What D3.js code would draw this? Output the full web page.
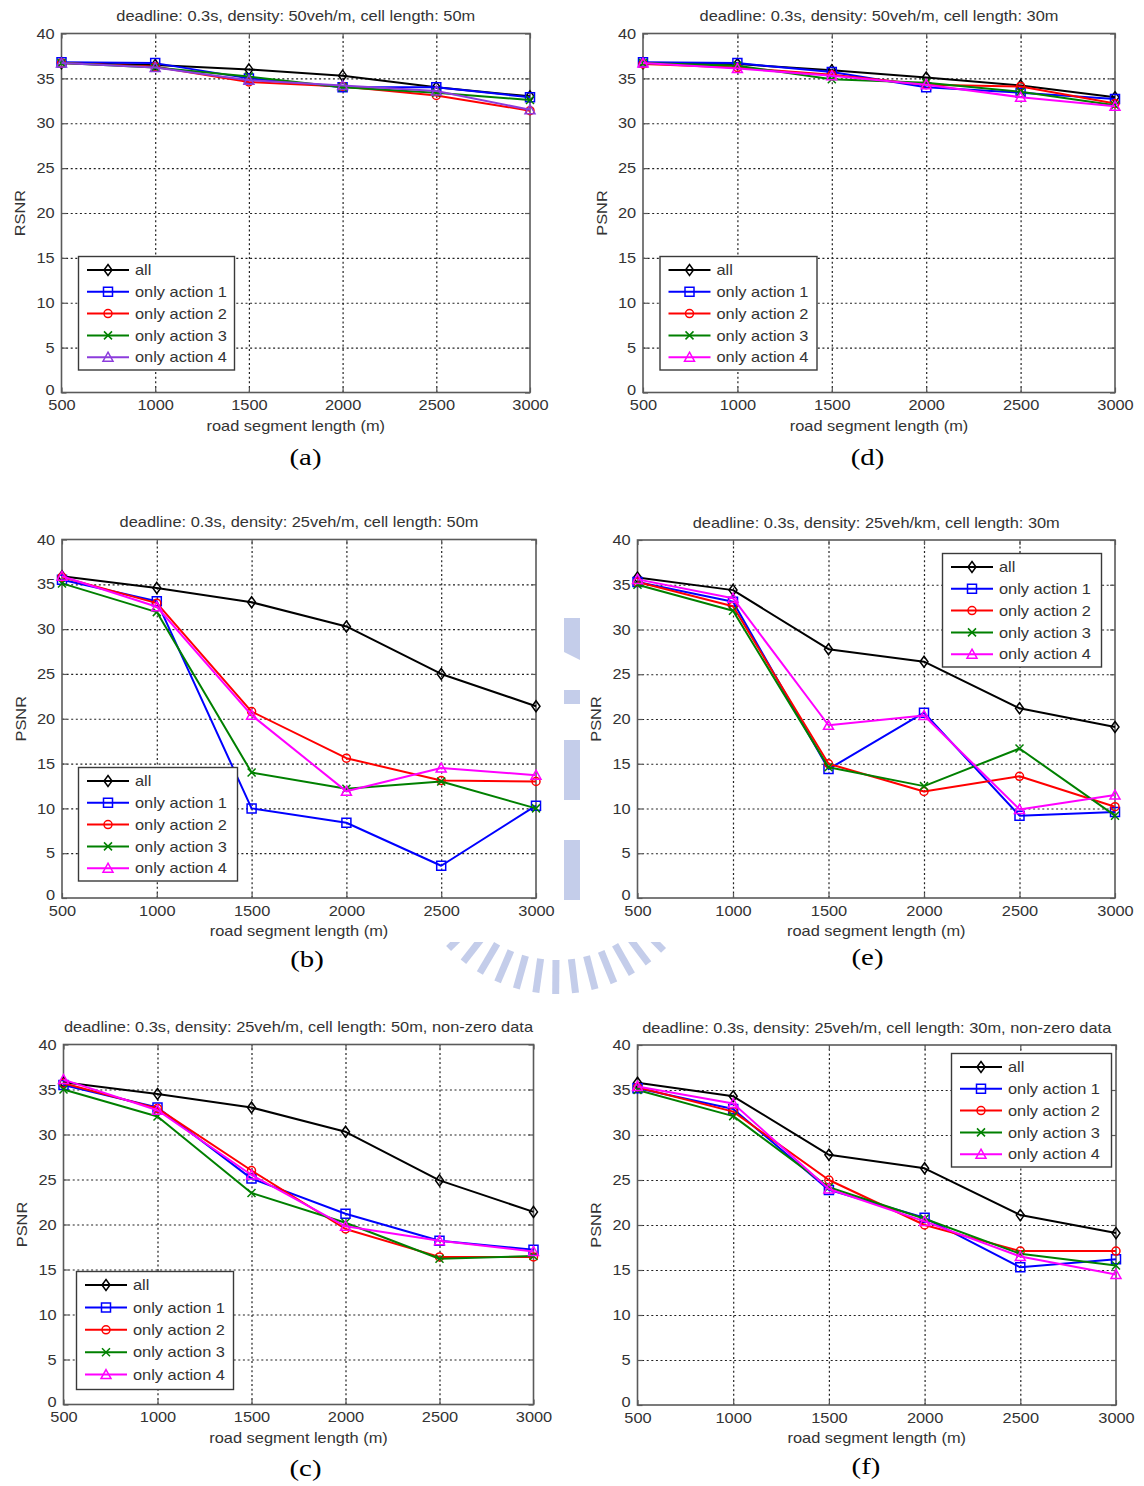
<!DOCTYPE html>
<html><head><meta charset="utf-8">
<script src="https://cdn.jsdelivr.net/npm/d3@7"></script>
<style>body{margin:0;background:#fff} svg{display:block}</style>
</head><body><svg id="c" width="1144" height="1486"></svg>
<script>
// ---------------- data ----------------
const xValues = [500, 1000, 1500, 2000, 2500, 3000];
const yTickValues = [0, 5, 10, 15, 20, 25, 30, 35, 40];
const seriesNames = ["all", "only action 1", "only action 2", "only action 3", "only action 4"];

// (a) deadline 0.3s, density 50veh/m, cell 50m
const aAll  = [36.7, 36.5, 36.0, 35.3, 34.0, 33.0];
const aAct1 = [36.8, 36.7, 35.0, 34.0, 34.0, 32.9];
const aAct2 = [36.7, 36.3, 34.6, 34.1, 33.1, 31.4];
const aAct3 = [36.7, 36.2, 35.2, 34.0, 33.4, 32.6];
const aAct4 = [36.7, 36.2, 34.8, 34.2, 33.6, 31.5];
// (d) deadline 0.3s, density 50veh/m, cell 30m
const dAll  = [36.7, 36.6, 35.9, 35.1, 34.2, 32.9];
const dAct1 = [36.8, 36.7, 35.7, 34.0, 33.4, 32.7];
const dAct2 = [36.6, 36.2, 35.4, 34.3, 34.1, 32.2];
const dAct3 = [36.7, 36.4, 34.9, 34.5, 33.5, 32.0];
const dAct4 = [36.7, 36.1, 35.3, 34.3, 32.9, 31.9];
// (b) deadline 0.3s, density 25veh/m, cell 50m
const bAll  = [35.9, 34.6, 33.0, 30.3, 25.0, 21.4];
const bAct1 = [35.5, 33.1, 10.0, 8.4, 3.6, 10.3];
const bAct2 = [35.8, 32.9, 20.8, 15.6, 13.1, 13.0];
const bAct3 = [35.1, 31.9, 14.0, 12.2, 13.0, 10.0];
const bAct4 = [35.9, 32.5, 20.4, 11.9, 14.5, 13.7];
// (e) deadline 0.3s, density 25veh/km, cell 30m
const eAll  = [35.8, 34.4, 27.8, 26.4, 21.2, 19.1];
const eAct1 = [35.3, 33.1, 14.4, 20.7, 9.2, 9.6];
const eAct2 = [35.3, 32.6, 15.0, 11.9, 13.6, 10.2];
const eAct3 = [35.0, 32.1, 14.6, 12.5, 16.7, 9.2];
const eAct4 = [35.6, 33.5, 19.3, 20.4, 9.9, 11.5];
// (c) deadline 0.3s, density 25veh/m, cell 50m, non-zero data
const cAll  = [35.8, 34.5, 33.0, 30.3, 24.9, 21.4];
const cAct1 = [35.5, 33.0, 25.1, 21.2, 18.2, 17.2];
const cAct2 = [35.7, 32.9, 26.0, 19.5, 16.4, 16.4];
const cAct3 = [35.0, 32.0, 23.5, 20.2, 16.2, 16.5];
const cAct4 = [36.1, 32.7, 25.5, 19.8, 18.2, 17.0];
// (f) deadline 0.3s, density 25veh/m, cell 30m, non-zero data
const fAll  = [35.8, 34.3, 27.8, 26.3, 21.1, 19.1];
const fAct1 = [35.2, 32.9, 23.9, 20.8, 15.3, 16.2];
const fAct2 = [35.3, 32.6, 25.0, 20.0, 17.1, 17.1];
const fAct3 = [35.0, 32.1, 24.2, 20.7, 16.8, 15.5];
const fAct4 = [35.4, 33.5, 24.0, 20.4, 16.5, 14.5];

const panelTitles = [
  "deadline: 0.3s, density: 50veh/m, cell length: 50m",
  "deadline: 0.3s,  density: 50veh/m, cell length: 30m",
  "deadline: 0.3s, density: 25veh/m, cell length: 50m",
  "deadline: 0.3s, density: 25veh/km, cell length: 30m",
  "deadline: 0.3s, density: 25veh/m, cell length: 50m, non-zero data",
  "deadline: 0.3s, density: 25veh/m, cell length: 30m, non-zero data"
];
const yAxisLabels = ["RSNR", "PSNR", "PSNR", "PSNR", "PSNR", "PSNR"];
const xAxisLabel = "road segment length (m)";
const panelLetters = ["(a)", "(d)", "(b)", "(e)", "(c)", "(f)"];

// ---------------- layout / style ----------------
const panels = [
  {data: [aAll, aAct1, aAct2, aAct3, aAct4], L: 61.5, R: 530, T: 33.5, B: 392.5, letX: 305.5, letY: 465, leg: {x: 78.5, y: 256.5, w: 156, h: 113.5, step: 21.8}, purple: true},
  {data: [dAll, dAct1, dAct2, dAct3, dAct4], L: 643, R: 1115, T: 33.5, B: 392.5, letX: 867.5, letY: 465, leg: {x: 660, y: 256.5, w: 157, h: 113.5, step: 21.8}},
  {data: [bAll, bAct1, bAct2, bAct3, bAct4], L: 62, R: 536, T: 539.5, B: 898, letX: 307, letY: 967, leg: {x: 78.5, y: 767.5, w: 159, h: 113.5, step: 21.8}},
  {data: [eAll, eAct1, eAct2, eAct3, eAct4], L: 637.5, R: 1115, T: 540, B: 898, letX: 867.5, letY: 965, leg: {x: 942.5, y: 553.5, w: 159, h: 113.5, step: 21.8}},
  {data: [cAll, cAct1, cAct2, cAct3, cAct4], L: 63.5, R: 533.5, T: 1044.5, B: 1404.5, letX: 305.5, letY: 1476, leg: {x: 76.5, y: 1271.5, w: 157, h: 118, step: 22.4}},
  {data: [fAll, fAct1, fAct2, fAct3, fAct4], L: 637.5, R: 1116, T: 1045, B: 1405, letX: 866, letY: 1474, leg: {x: 951.5, y: 1053.5, w: 160, h: 113.5, step: 21.8}}
];

const colors = ["#000000", "#0000ff", "#ff0000", "#008000", "#ff00ff"];
const purple = "#8c3cdc";
const markerTypes = ["diamond", "square", "circle", "x", "triangle"];

const SX = 1.13;
const FONT = "'Liberation Sans', Arial, Helvetica, sans-serif";
const FS = 14.5;
const TXT = "#333";
const AX = "#5a5a5a";

const svg = d3.select("#c");

function stext(g, x, y, s, anchor, rot) {
  return g.append("text")
    .attr("transform", `translate(${x},${y})` + (rot ? ` rotate(${rot})` : "") + ` scale(${SX},1)`)
    .attr("text-anchor", anchor)
    .attr("font-family", FONT).attr("font-size", FS).attr("fill", TXT)
    .text(s);
}

function markerPath(t) {
  switch (t) {
    case "diamond": return "M0,-5.5L4,0L0,5.5L-4,0Z";
    case "square": return "M-4.5,-4.5H4.5V4.5H-4.5Z";
    case "circle": return "M4,0A4,4 0 1,1 -4,0A4,4 0 1,1 4,0Z";
    case "x": return "M-4,-4L4,4M-4,4L4,-4";
    case "triangle": return "M0,-5L5,4H-5Z";
  }
}

// ---------------- watermark (faint logo behind figures) ----------------
const wm = svg.append("g").attr("fill", "#c4cdea").attr("stroke", "#c4cdea");
const wmAngles = d3.range(38, 145, 7.5);
wm.selectAll("line.bar").data(wmAngles).enter().append("line")
  .attr("x1", a => 557 + 118 * Math.cos(a * Math.PI / 180))
  .attr("y1", a => 842 + 118 * Math.sin(a * Math.PI / 180))
  .attr("x2", a => 557 + 152 * Math.cos(a * Math.PI / 180))
  .attr("y2", a => 842 + 152 * Math.sin(a * Math.PI / 180))
  .attr("stroke-width", 7);
wm.append("path").attr("stroke", "none").attr("d", "M564,618L580,618L580,660L564,652Z");
wm.append("rect").attr("stroke", "none").attr("x", 564).attr("y", 690).attr("width", 16).attr("height", 14);
wm.append("rect").attr("stroke", "none").attr("x", 564).attr("y", 740).attr("width", 16).attr("height", 60);
wm.append("rect").attr("stroke", "none").attr("x", 564).attr("y", 840).attr("width", 16).attr("height", 60);
// opaque figure images (b) and (e) cover the logo
svg.append("rect").attr("x", 0).attr("y", 505).attr("width", 558).attr("height", 437).attr("fill", "#fff");
svg.append("rect").attr("x", 583).attr("y", 505).attr("width", 561).attr("height", 437).attr("fill", "#fff");

// ---------------- panels ----------------
panels.forEach((p, pi) => {
  const g = svg.append("g");
  const x = d3.scaleLinear().domain([500, 3000]).range([p.L, p.R]);
  const y = d3.scaleLinear().domain([0, 40]).range([p.B, p.T]);
  const W = p.R - p.L, H = p.B - p.T;

  g.append("rect").attr("x", p.L).attr("y", p.T).attr("width", W).attr("height", H).attr("fill", "#fff");

  // grid (dotted)
  const gx = g.append("g").attr("transform", `translate(0,${p.B})`)
    .call(d3.axisBottom(x).tickValues(xValues.slice(1, -1)).tickSize(-H).tickFormat(""));
  const gy = g.append("g").attr("transform", `translate(${p.L},0)`)
    .call(d3.axisLeft(y).tickValues(yTickValues.slice(1, -1)).tickSize(-W).tickFormat(""));
  [gx, gy].forEach(a => {
    a.select(".domain").remove();
    a.selectAll("line").attr("stroke", "#222").attr("stroke-width", 1.2).attr("stroke-dasharray", "2,2.6");
  });

  // axes with inward ticks
  const fmt = d3.format("d");
  const ab = g.append("g").attr("transform", `translate(0,${p.B})`)
    .call(d3.axisBottom(x).tickValues(xValues).tickFormat(fmt).tickSizeInner(-5).tickSizeOuter(0).tickPadding(7.5));
  const at = g.append("g").attr("transform", `translate(0,${p.T})`)
    .call(d3.axisTop(x).tickValues(xValues).tickSizeInner(-5).tickSizeOuter(0).tickFormat(""));
  const al = g.append("g").attr("transform", `translate(${p.L},0)`)
    .call(d3.axisLeft(y).tickValues(yTickValues).tickFormat(fmt).tickSizeInner(-5).tickSizeOuter(0).tickPadding(6));
  const ar = g.append("g").attr("transform", `translate(${p.R},0)`)
    .call(d3.axisRight(y).tickValues(yTickValues).tickSizeInner(-5).tickSizeOuter(0).tickFormat(""));
  [ab, at, al, ar].forEach(a => {
    a.select(".domain").remove();
    a.selectAll("line").attr("stroke", AX).attr("stroke-width", 1.2);
    a.selectAll("text").attr("font-family", FONT).attr("font-size", FS).attr("fill", TXT)
      .attr("transform", `scale(${SX},1)`);
  });
  // lift the "0" label slightly so it sits at the corner above "500"
  al.selectAll(".tick").filter(d => d === 0).select("text").attr("transform", `translate(0,-3) scale(${SX},1)`);

  g.append("rect").attr("x", p.L).attr("y", p.T).attr("width", W).attr("height", H)
    .attr("fill", "none").attr("stroke", AX).attr("stroke-width", 1.6);

  // series
  const line = d3.line().x((d, i) => x(xValues[i])).y(d => y(d));
  p.data.forEach((vals, si) => {
    const col = (si === 4 && p.purple) ? purple : colors[si];
    g.append("path").datum(vals).attr("d", line).attr("fill", "none")
      .attr("stroke", col).attr("stroke-width", 2).attr("stroke-linejoin", "round");
    g.selectAll(null).data(vals).enter().append("path")
      .attr("transform", (d, i) => `translate(${x(xValues[i])},${y(d)})`)
      .attr("d", markerPath(markerTypes[si]))
      .attr("fill", "none").attr("stroke", col).attr("stroke-width", 1.5);
  });

  // legend
  const lg = g.append("g").attr("transform", `translate(${p.leg.x},${p.leg.y})`);
  lg.append("rect").attr("width", p.leg.w).attr("height", p.leg.h)
    .attr("fill", "#fff").attr("stroke", "#3a3a3a").attr("stroke-width", 1.4);
  seriesNames.forEach((nm, si) => {
    const col = (si === 4 && p.purple) ? purple : colors[si];
    const ry = 13.5 + si * p.leg.step;
    lg.append("line").attr("x1", 8.5).attr("x2", 50.5).attr("y1", ry).attr("y2", ry)
      .attr("stroke", col).attr("stroke-width", 2);
    lg.append("path").attr("transform", `translate(29.5,${ry})`).attr("d", markerPath(markerTypes[si]))
      .attr("fill", "none").attr("stroke", col).attr("stroke-width", 1.5);
    stext(lg, 56.5, ry + 5.2, nm, "start");
  });

  // texts
  stext(g, (p.L + p.R) / 2, p.T - 12.5, panelTitles[pi], "middle");
  stext(g, (p.L + p.R) / 2, p.B + 38, xAxisLabel, "middle");
  stext(g, p.L - 36.5, (p.T + p.B) / 2, yAxisLabels[pi], "middle", -90);
  g.append("text").attr("transform", `translate(${p.letX},${p.letY}) scale(1.2,1)`)
    .attr("text-anchor", "middle").attr("font-family", "'Liberation Serif', 'Times New Roman', serif")
    .attr("font-size", 24).attr("fill", "#000").text(panelLetters[pi]);
});
</script>
</body></html>
